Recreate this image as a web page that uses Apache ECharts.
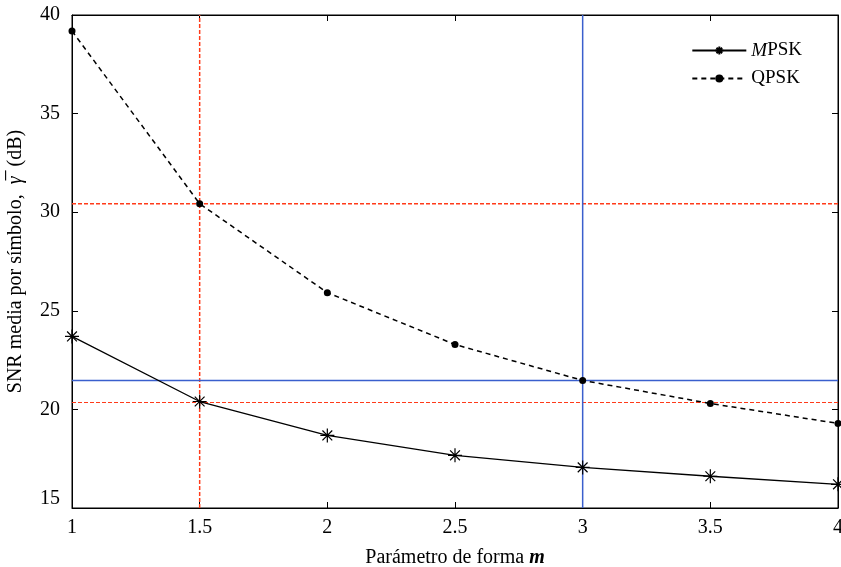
<!DOCTYPE html>
<html>
<head>
<meta charset="utf-8">
<script src="https://cdn.jsdelivr.net/npm/echarts@6/dist/echarts.min.js"></script>
<style>
  html, body { margin: 0; padding: 0; background: #fff; }
  #main { width: 841px; height: 567px; }
</style>
</head>
<body>
<div id="main"></div>
<script>
// valores
var mValues = [1, 1.5, 2, 2.5, 3, 3.5, 4]
var mpsk = [23.70, 20.40, 18.68, 17.67, 17.06, 16.61, 16.20]
var qpsk = [39.19, 30.43, 25.92, 23.29, 21.47, 20.30, 19.29]
var xTicks = [1, 1.5, 2, 2.5, 3, 3.5, 4]
var yTicks = [15, 20, 25, 30, 35, 40]
// lineas de referencia
var redX = 1.5
var redY = [30.43, 20.35]
var blueX = 3
var blueY = 21.47
var xRange = [1, 4]
var yRange = [15, 40]

var serif = 'Liberation Serif'
var asterisk = 'path://M0,-10L0,10M-10,0L10,0M-7,-7L7,7M-7,7L7,-7'
var red = '#ff3b1a'
var blue = '#3a5fcd'

var myChart = echarts.init(document.getElementById('main'))

var axisBase = {
  type: 'value',
  axisLine: { show: true, onZero: false, lineStyle: { color: '#000', width: 1 } },
  axisTick: { show: true, inside: true, length: 6, lineStyle: { color: '#000' } },
  splitLine: { show: false }
}

// linea de referencia como serie simple
function refLine (pts, color, type, width) {
  return {
    type: 'line',
    data: pts,
    symbol: 'none',
    silent: true,
    lineStyle: { color: color, type: type, width: width },
    z: 2
  }
}

var option = {
  animation: false,
  backgroundColor: '#fff',
  grid: {
    left: 72, right: 3, top: 15, bottom: 59,
    outerBoundsMode: 'none', containLabel: false,
    show: true, borderColor: '#000', borderWidth: 1
  },
  legend: {
    orient: 'vertical',
    right: 34,
    top: 36,
    itemWidth: 54,
    itemHeight: 10,
    itemGap: 9,
    textStyle: {
      fontFamily: serif, fontSize: 19, color: '#000',
      rich: {
        i: { fontFamily: serif, fontSize: 19, fontStyle: 'italic', color: '#000' },
        n: { fontFamily: serif, fontSize: 19, color: '#000' }
      }
    },
    formatter: function (name) {
      return name === 'MPSK' ? '{i|M}{n|PSK}' : '{n|' + name + '}'
    },
    data: ['MPSK', 'QPSK']
  },
  xAxis: [
    Object.assign({}, axisBase, {
      position: 'bottom',
      min: 1, max: 4, interval: 0.5,
      axisLabel: {
        margin: 10, fontFamily: serif, fontSize: 20, color: '#000',
        formatter: function (v) { return xTicks.indexOf(v) >= 0 ? String(v) : '' }
      },
      name: '{a|Parámetro de forma }{i|m}',
      nameLocation: 'middle',
      nameGap: 40,
      nameTextStyle: {
        rich: {
          a: { fontFamily: serif, fontSize: 20, color: '#000' },
          i: { fontFamily: serif, fontSize: 20, fontStyle: 'italic', fontWeight: 'bold', color: '#000' }
        }
      }
    }),
    Object.assign({}, axisBase, {
      position: 'top',
      min: 1, max: 4, interval: 0.5,
      axisLabel: { show: false }
    })
  ],
  yAxis: [
    Object.assign({}, axisBase, {
      position: 'left',
      min: 15, max: 40, interval: 5,
      axisLabel: {
        margin: 12, fontFamily: serif, fontSize: 20, color: '#000',
        formatter: function (v) {
          if (yTicks.indexOf(v) < 0) return ''
          return v === 15 ? '{lo|15}' : String(v)
        },
        rich: {
          lo: { fontFamily: serif, fontSize: 20, color: '#000', padding: [0, 0, 18, 0] }
        }
      },
      name: '{a|SNR media por símbolo,  }{g|\u03B3\u0305}{a|  (dB)}',
      nameLocation: 'middle',
      nameGap: 46,
      nameTextStyle: {
        rich: {
          a: { fontFamily: serif, fontSize: 20, color: '#000' },
          g: { fontFamily: serif, fontSize: 20, fontStyle: 'italic', color: '#000' }
        }
      }
    }),
    Object.assign({}, axisBase, {
      position: 'right',
      min: 15, max: 40, interval: 5,
      axisLabel: { show: false }
    })
  ],
  series: [
    refLine([[redX, yRange[0]], [redX, yRange[1]]], red, [4, 2], 1.5),
    refLine([[xRange[0], redY[0]], [xRange[1], redY[0]]], red, [4, 2], 1.5),
    refLine([[xRange[0], redY[1]], [xRange[1], redY[1]]], red, [4, 2], 1.2),
    refLine([[blueX, yRange[0]], [blueX, yRange[1]]], blue, 'solid', 1.5),
    refLine([[xRange[0], blueY], [xRange[1], blueY]], blue, 'solid', 1.5),
    {
      name: 'MPSK',
      type: 'line',
      data: mValues.map(function (m, i) { return [m, mpsk[i]] }),
      symbol: asterisk,
      symbolSize: 14,
      showAllSymbol: true,
      lineStyle: { color: '#000', width: 1.3 },
      itemStyle: { color: '#000', borderColor: '#000', borderWidth: 1.2 },
      z: 5
    },
    {
      name: 'QPSK',
      type: 'line',
      data: mValues.map(function (m, i) { return [m, qpsk[i]] }),
      symbol: 'circle',
      symbolSize: 7,
      showAllSymbol: true,
      lineStyle: { color: '#000', width: 1.5, type: [5, 4] },
      itemStyle: { color: '#000' },
      z: 5
    }
  ]
}

myChart.setOption(option)
</script>
</body>
</html>
